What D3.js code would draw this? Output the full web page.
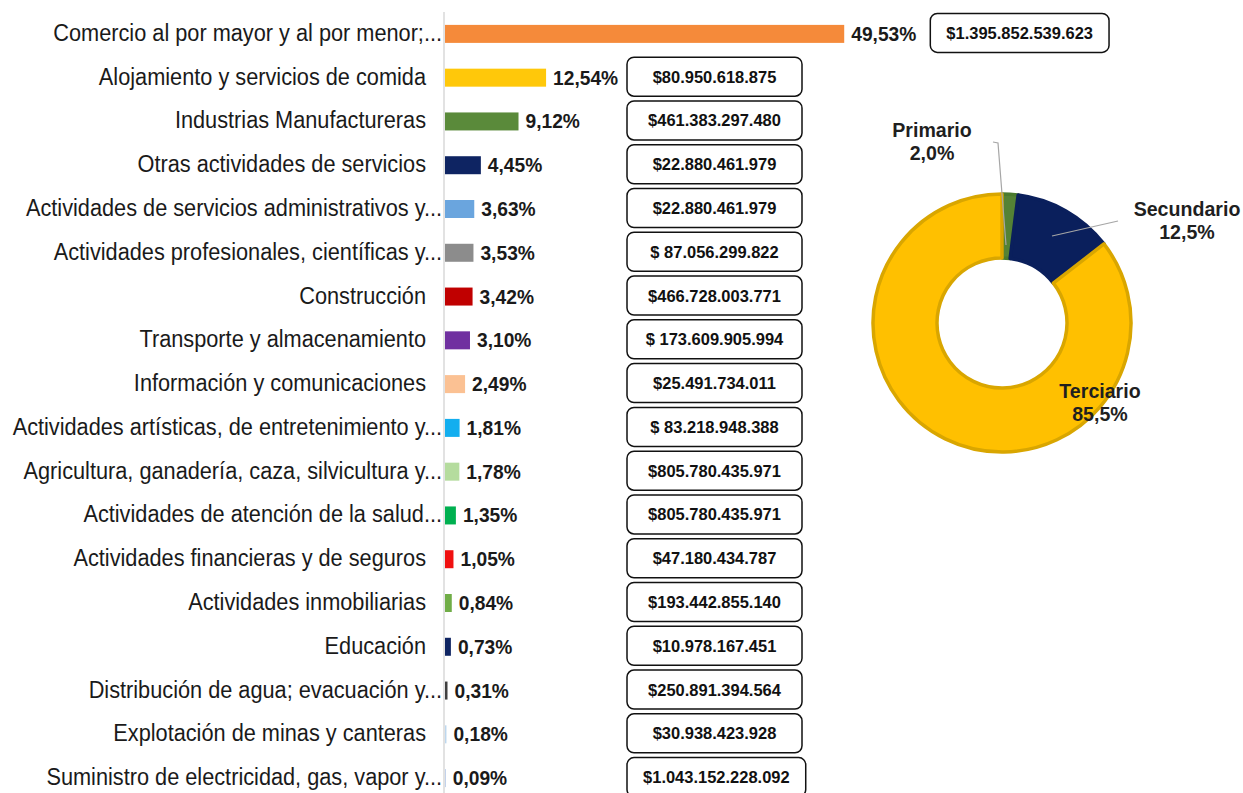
<!DOCTYPE html>
<html><head><meta charset="utf-8">
<script src="https://cdn.jsdelivr.net/npm/d3@7"></script>
<style>
html,body{margin:0;padding:0;background:#fff;}
svg{display:block;}
</style></head>
<body>
<svg id="chart" width="1243" height="793"></svg>
<script>
const categories = [
  "Comercio al por mayor y al por menor;...",
  "Alojamiento y servicios de comida",
  "Industrias Manufactureras",
  "Otras actividades de servicios",
  "Actividades de servicios administrativos y...",
  "Actividades profesionales, científicas y...",
  "Construcción",
  "Transporte y almacenamiento",
  "Información y comunicaciones",
  "Actividades artísticas, de entretenimiento y...",
  "Agricultura, ganadería, caza, silvicultura y...",
  "Actividades de atención de la salud...",
  "Actividades financieras y de seguros",
  "Actividades inmobiliarias",
  "Educación",
  "Distribución de agua; evacuación y...",
  "Explotación de minas y canteras",
  "Suministro de electricidad, gas, vapor y..."
];
const shares = [49.53, 12.54, 9.12, 4.45, 3.63, 3.53, 3.42, 3.10, 2.49, 1.81, 1.78, 1.35, 1.05, 0.84, 0.73, 0.31, 0.18, 0.09];
const amounts = [
  "$1.395.852.539.623", "$80.950.618.875", "$461.383.297.480", "$22.880.461.979",
  "$22.880.461.979", "$ 87.056.299.822", "$466.728.003.771", "$ 173.609.905.994",
  "$25.491.734.011", "$ 83.218.948.388", "$805.780.435.971", "$805.780.435.971",
  "$47.180.434.787", "$193.442.855.140", "$10.978.167.451", "$250.891.394.564",
  "$30.938.423.928", "$1.043.152.228.092"
];
const barColors = ["#F58A3A", "#FFC80A", "#5A8A3A", "#0E2462", "#6AA5DE", "#8C8C8C", "#C00000", "#7030A0",
  "#FBC193", "#12AEEF", "#B5DC9E", "#00B050", "#F01010", "#70AD47", "#0E2462", "#404040", "#BDD7EE", "#B4C7E7"];

const sectors = ["Primario", "Secundario", "Terciario"];
const sectorShares = [2.0, 12.5, 85.5];
const sectorLabels = ["2,0%", "12,5%", "85,5%"];
const sectorColors = ["#548235", "#0A1F5C", "#FFC000"];
const sectorStroke = ["#4A7A2E", "#0A1F5C", "#D9A600"];

const fmtPct = v => v.toFixed(2).replace(".", ",") + "%";

const svg = d3.select("#chart");
const font = "'Liberation Sans', Arial, sans-serif";

const x = d3.scaleLinear().domain([0, 50]).range([444, 847]);
const y = d3.scaleBand().domain(categories).range([12, 800]).paddingInner(0.6).paddingOuter(0.3);
const yc = c => y(c) + y.bandwidth() / 2;

// axis line
svg.append("line").attr("x1", 444).attr("x2", 444).attr("y1", 12).attr("y2", 793)
  .attr("stroke", "#D9D9D9").attr("stroke-width", 1.5);

// bars
svg.append("g").selectAll("rect").data(categories).join("rect")
  .attr("x", x(0) + 1)
  .attr("y", d => yc(d) - 9)
  .attr("width", (d, i) => Math.max(0.8, x(shares[i]) - x(0)))
  .attr("height", 18)
  .attr("fill", (d, i) => barColors[i]);

// category labels
svg.append("g").selectAll("text").data(categories).join("text")
  .attr("transform", d => `translate(${d.endsWith("...") ? 442 : 426},${yc(d) + 7}) scale(0.945,1)`)
  .attr("text-anchor", "end")
  .attr("font-family", font).attr("font-size", 23).attr("fill", "#1a1a1a")
  .text(d => d);

// percent labels
const pctSx = 0.96;
const pctNodes = svg.append("g").selectAll("text").data(categories).join("text")
  .attr("transform", (d, i) => `translate(${x(shares[i]) + 8},${yc(d) + 7}) scale(${pctSx},1)`)
  .attr("font-family", font).attr("font-size", 20).attr("font-weight", "bold").attr("fill", "#1a1a1a")
  .text((d, i) => fmtPct(shares[i]));

// value boxes
const boxG = svg.append("g");
categories.forEach((c, i) => {
  const labelEnd = x(shares[i]) + 8 + pctNodes.nodes()[i].getBBox().width * pctSx;
  const bx = labelEnd + 14 > 700 ? labelEnd + 14 : 627;
  const g = boxG.append("g");
  const t = g.append("text")
    .attr("font-family", font).attr("font-size", 17).attr("font-weight", "bold").attr("fill", "#111")
    .attr("text-anchor", "middle")
    .text(amounts[i]);
  const tw = t.node().getBBox().width * 0.97;
  const bw = Math.max(175, tw + 32);
  const cy = yc(c) - 1;
  g.insert("rect", "text").attr("x", bx).attr("y", cy - 19.5).attr("width", bw).attr("height", 39)
    .attr("rx", 7).attr("ry", 7).attr("fill", "#fff").attr("stroke", "#111").attr("stroke-width", 1.5);
  t.attr("transform", `translate(${bx + bw / 2},${cy + 6}) scale(0.97,1)`);
});

// donut
const cx = 1002, cyD = 323, rOut = 129, rIn = 65;
const pie = d3.pie().sort(null).value(d => d)(sectorShares);
const arc = d3.arc().innerRadius(rIn).outerRadius(rOut);
const dg = svg.append("g").attr("transform", `translate(${cx},${cyD})`);
dg.selectAll("path").data(pie).join("path")
  .attr("d", arc)
  .attr("fill", (d, i) => sectorColors[i])
  .attr("stroke", (d, i) => sectorStroke[i]).attr("stroke-width", 3.5).attr("stroke-linejoin", "round");

// leader lines
const leaders = [
  [[993, 142], [998, 143], [1006, 245]],
  [[1118, 221], [1052, 236]]
];
const line = d3.line();
svg.selectAll("path.leader").data(leaders).join("path").attr("class", "leader")
  .attr("d", d => line(d)).attr("fill", "none").attr("stroke", "#A6A6A6").attr("stroke-width", 1.2);

// donut labels
const labelPos = [[932, 137], [1187, 216], [1100, 398]];
sectors.forEach((s, i) => {
  const t = svg.append("text")
    .attr("transform", `translate(${labelPos[i][0]},${labelPos[i][1]}) scale(0.98,1)`)
    .attr("text-anchor", "middle").attr("font-family", font).attr("font-size", 20)
    .attr("font-weight", "bold").attr("fill", "#1f1f1f");
  t.append("tspan").attr("x", 0).attr("dy", 0).text(s);
  t.append("tspan").attr("x", 0).attr("dy", 23).text(sectorLabels[i]);
});
</script>
</body></html>
